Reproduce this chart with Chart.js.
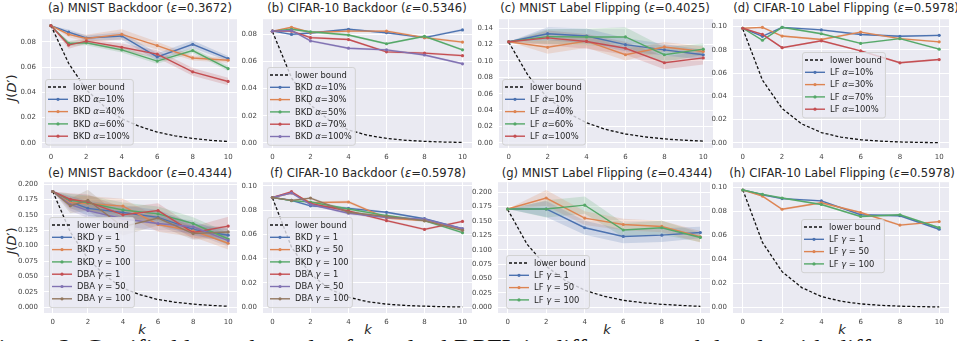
<!DOCTYPE html>
<html>
<head>
<meta charset="utf-8">
<script src="https://cdn.jsdelivr.net/npm/chart.js@4.4.0/dist/chart.umd.min.js"></script>
<style>
  body { margin: 0; width: 957px; height: 341px; overflow: hidden; position: relative; background: #fff; font-family: "DejaVu Sans", sans-serif; }
  canvas { position: absolute; }
  .ttl { position: absolute; font-size: 14px; line-height: 16px; color: #262626; white-space: nowrap; transform: translateX(-50%); }
  .ylab { position: absolute; font-size: 13px; color: #262626; white-space: nowrap; transform: translate(-50%, -50%) rotate(-90deg); }
  .xlab { position: absolute; font-size: 13px; line-height: 14px; color: #262626; font-style: italic; transform: translateX(-50%); }
  .cap { position: absolute; left: -16px; top: 336px; font-family: "Liberation Serif", serif; font-size: 26px; line-height: 26px; color: #111; white-space: nowrap; }
</style>
</head>
<body>
<div class="ttl" style="left:140px;top:0px">(a) MNIST Backdoor (<i>ε</i>=0.3672)</div>
<div class="ttl" style="left:367px;top:0px">(b) CIFAR-10 Backdoor (<i>ε</i>=0.5346)</div>
<div class="ttl" style="left:605px;top:0px">(c) MNIST Label Flipping (<i>ε</i>=0.4025)</div>
<div class="ttl" style="left:846px;top:0px">(d) CIFAR-10 Label Flipping (<i>ε</i>=0.5978)</div>
<div class="ttl" style="left:140px;top:165px">(e) MNIST Backdoor (<i>ε</i>=0.4344)</div>
<div class="ttl" style="left:368px;top:165px">(f) CIFAR-10 Backdoor (<i>ε</i>=0.5978)</div>
<div class="ttl" style="left:607px;top:165px">(g) MNIST Label Flipping (<i>ε</i>=0.4344)</div>
<div class="ttl" style="left:842px;top:165px">(h) CIFAR-10 Label Flipping (<i>ε</i>=0.5978)</div>
<div class="ylab" style="left:11px;top:88px"><i>J</i>(<i>D</i>′)</div>
<div class="ylab" style="left:11px;top:241px"><i>J</i>(<i>D</i>′)</div>
<div class="xlab" style="left:142px;top:323px">k</div>
<div class="xlab" style="left:368px;top:323px">k</div>
<div class="xlab" style="left:607px;top:323px">k</div>
<div class="xlab" style="left:842px;top:323px">k</div>
<div class="cap">Figure 2: Certified lower bounds of standard DPFL in different attack levels with different</div>
<script>
// ---- data ----
const ks7 = [0, 1, 2, 4, 6, 8, 10];
const ks6 = [0, 2, 4, 6, 8, 10];
const ksBound = [0, 1, 2, 3, 4, 5, 6, 7, 8, 9, 10];
const xTicks = [0, 2, 4, 6, 8, 10];
const yTicksSmall = [0, 0.02, 0.04, 0.06, 0.08];
const yTicksC = [0, 0.02, 0.04, 0.06, 0.08, 0.10, 0.12, 0.14];
const yTicksTen = [0, 0.02, 0.04, 0.06, 0.08, 0.10];
const yTicksBig = [0, 0.025, 0.05, 0.075, 0.1, 0.125, 0.15, 0.175, 0.2];

// (a) MNIST backdoor
const aLower = [0.093, 0.063, 0.042, 0.029, 0.019, 0.013, 0.0085, 0.0055, 0.0035, 0.002, 0.001];
const aBkd10 = [0.0928, 0.0877, 0.0830, 0.0846, 0.0680, 0.0780, 0.0667];
const aBkd40 = [0.0928, 0.0859, 0.0826, 0.0859, 0.0770, 0.0672, 0.0654];
const aBkd60 = [0.0928, 0.0787, 0.0792, 0.0736, 0.0647, 0.0731, 0.0588];
const aBkd100 = [0.0928, 0.0774, 0.0805, 0.0757, 0.0703, 0.0562, 0.0486];
const aErr10 = [0, 0.002, 0.002, 0.003, 0.003, 0.003, 0.002];
const aErr40 = [0, 0.002, 0.003, 0.004, 0.003, 0.002, 0.002];
const aErr60 = [0, 0.002, 0.002, 0.002, 0.002, 0.002, 0.002];
const aErr100 = [0, 0.003, 0.002, 0.003, 0.003, 0.003, 0.003];

// (b) CIFAR-10 backdoor
const bLower = [0.082, 0.048, 0.028, 0.0165, 0.0095, 0.0056, 0.0033, 0.0019, 0.0011, 0.0006, 0.0003];
const bBkd10 = [0.0824, 0.0800, 0.0810, 0.0838, 0.0812, 0.0776, 0.0833];
const bBkd30 = [0.0824, 0.0852, 0.0814, 0.0824, 0.0824, 0.0776, 0.0743];
const bBkd50 = [0.0824, 0.0838, 0.0819, 0.0795, 0.0731, 0.0786, 0.0686];
const bBkd70 = [0.0824, 0.0824, 0.0776, 0.0762, 0.0671, 0.0662, 0.0643];
const bBkd100 = [0.0824, 0.0829, 0.0752, 0.0698, 0.0686, 0.0648, 0.0583];
const bErr = [0, 0.0008, 0.0008, 0.0008, 0.0008, 0.0008, 0.0008];

// (c) MNIST label flipping
const cLower = [0.123, 0.082, 0.055, 0.037, 0.0245, 0.0163, 0.0108, 0.0072, 0.0048, 0.0032, 0.0021];
const cLf10 = [0.1234, 0.1333, 0.1305, 0.1199, 0.1136, 0.1076];
const cLf40 = [0.1234, 0.1167, 0.1242, 0.1076, 0.1171, 0.1116];
const cLf60 = [0.1234, 0.1297, 0.1293, 0.1293, 0.1076, 0.1144];
const cLf100 = [0.1234, 0.1282, 0.1238, 0.1155, 0.0978, 0.1037];
const cErr10 = [0, 0.008, 0.009, 0.008, 0.007, 0.006];
const cErr40 = [0, 0.008, 0.008, 0.007, 0.006, 0.006];
const cErr60 = [0, 0.009, 0.010, 0.012, 0.009, 0.007];
const cErr100 = [0, 0.009, 0.009, 0.008, 0.008, 0.008];

// (d) CIFAR-10 label flipping
const dLower = [0.098, 0.054, 0.0296, 0.0163, 0.0089, 0.0049, 0.0027, 0.0015, 0.0008, 0.0004, 0.0002];
const dLf10 = [0.0986, 0.0917, 0.0994, 0.0972, 0.0933, 0.0917, 0.0925];
const dLf30 = [0.0986, 0.0994, 0.0919, 0.0889, 0.0953, 0.0897, 0.0869];
const dLf70 = [0.0986, 0.0883, 0.0994, 0.0939, 0.0856, 0.0897, 0.0806];
const dLf100 = [0.0986, 0.0933, 0.0819, 0.0878, 0.0792, 0.0689, 0.0717];
const dErr = [0, 0.0008, 0.0008, 0.0008, 0.0008, 0.0008, 0.0008];

// (e) MNIST backdoor, gamma
const eLower = [0.188, 0.122, 0.079, 0.051, 0.031, 0.020, 0.0125, 0.008, 0.005, 0.003, 0.0015];
const eBkd1 = [0.188, 0.1710, 0.1606, 0.1538, 0.1459, 0.1265, 0.1170];
const eBkd50 = [0.188, 0.1696, 0.1685, 0.1643, 0.1344, 0.1239, 0.1039];
const eBkd100 = [0.188, 0.1738, 0.1696, 0.1580, 0.1517, 0.1360, 0.1108];
const eDba1 = [0.188, 0.1753, 0.1711, 0.1501, 0.1570, 0.1213, 0.1318];
const eDba50 = [0.188, 0.1669, 0.1570, 0.1438, 0.1360, 0.1307, 0.1081];
const eDba100 = [0.188, 0.1648, 0.1738, 0.1307, 0.1449, 0.1197, 0.1223];
const eErr = [0, 0.010, 0.012, 0.012, 0.012, 0.010, 0.010];
const eErrRed = [0, 0.010, 0.012, 0.012, 0.012, 0.010, 0.015];
const eErrBrown = [0, 0.012, 0.017, 0.014, 0.012, 0.010, 0.010];

// (f) CIFAR-10 backdoor, gamma
const fLower = [0.090, 0.0495, 0.0272, 0.015, 0.0082, 0.0045, 0.0025, 0.0014, 0.0008, 0.0004, 0.0002];
const fBkd1 = [0.0904, 0.0880, 0.0835, 0.0814, 0.0782, 0.0729, 0.0646];
const fBkd50 = [0.0904, 0.0941, 0.0862, 0.0867, 0.0734, 0.0713, 0.0641];
const fBkd100 = [0.0904, 0.0878, 0.0867, 0.0809, 0.0755, 0.0713, 0.0614];
const fDba1 = [0.0904, 0.0952, 0.0854, 0.0793, 0.0713, 0.0641, 0.0707];
const fDba50 = [0.0904, 0.0941, 0.0846, 0.0774, 0.0739, 0.0726, 0.0646];
const fDba100 = [0.0904, 0.0880, 0.0899, 0.0782, 0.0747, 0.0713, 0.0633];
const fErr = [0, 0.0009, 0.0009, 0.0012, 0.0009, 0.0009, 0.0009];

// (g) MNIST label flipping, gamma
const gLower = [0.170, 0.110, 0.0713, 0.0462, 0.0295, 0.019, 0.012, 0.0078, 0.005, 0.003, 0.0015];
const gLf1 = [0.1708, 0.1708, 0.1382, 0.1230, 0.1253, 0.1298];
const gLf50 = [0.1708, 0.1899, 0.1550, 0.1438, 0.1404, 0.1225];
const gLf100 = [0.1708, 0.1708, 0.1775, 0.1343, 0.1382, 0.1213];
const gErr1 = [0, 0.014, 0.012, 0.012, 0.012, 0.010];
const gErr50 = [0, 0.014, 0.012, 0.010, 0.010, 0.010];
const gErr100 = [0, 0.015, 0.015, 0.012, 0.012, 0.008];

// (h) CIFAR-10 label flipping, gamma
const hLower = [0.098, 0.054, 0.0296, 0.0163, 0.0089, 0.0049, 0.0027, 0.0015, 0.0008, 0.0004, 0.0002];
const hLf1 = [0.0978, 0.0938, 0.0906, 0.0887, 0.0771, 0.0763, 0.0650];
const hLf50 = [0.0978, 0.0927, 0.0817, 0.0871, 0.0790, 0.0685, 0.0714];
const hLf100 = [0.0978, 0.0941, 0.0911, 0.0857, 0.0757, 0.0771, 0.0663];
const hErr = [0, 0.0008, 0.0008, 0.0008, 0.0008, 0.0008, 0.0008];

// ---- styling ----
const FONT = '"DejaVu Sans", sans-serif';
const C = {
  blue: [76, 114, 176], orange: [221, 132, 82], green: [85, 168, 104],
  red: [196, 78, 82], purple: [129, 114, 179], brown: [147, 120, 96]
};
const rgb = (c, a) => a === undefined ? `rgb(${c.join(',')})` : `rgba(${c.join(',')},${a})`;

// size the panel titles so "(a) ..." is as wide as in the reference (184px)
(function fitTitles() {
  const titles = document.querySelectorAll('.ttl');
  const w = titles[0].getBoundingClientRect().width;
  const size = 14 * 184 / w;
  titles.forEach(el => { el.style.fontSize = size.toFixed(2) + 'px'; });
})();

const bgPlugin = {
  id: 'areaBg',
  beforeDraw(chart) {
    const { ctx, chartArea: a } = chart;
    ctx.save();
    ctx.fillStyle = '#EAEAF2';
    ctx.fillRect(a.left, a.top, a.right - a.left, a.bottom - a.top);
    ctx.restore();
  }
};

// labels with greek letters drawn in italic
function richParts(text) {
  return text.split(/([αγ])/).filter(s => s.length);
}
function richWidth(ctx, text, size) {
  let w = 0;
  richParts(text).forEach(p => {
    ctx.font = (/[αγ]/.test(p) ? 'italic ' : '') + size + 'px ' + FONT;
    w += ctx.measureText(p).width;
  });
  return w;
}
function drawRich(ctx, text, x, y, size) {
  richParts(text).forEach(p => {
    ctx.font = (/[αγ]/.test(p) ? 'italic ' : '') + size + 'px ' + FONT;
    ctx.fillText(p, x, y);
    x += ctx.measureText(p).width;
  });
}

const legendPlugin = {
  id: 'boxLegend',
  afterDatasetsDraw(chart, args, opts) {
    const ctx = chart.ctx;
    const rowH = 12.3;
    // "lower bound" is about 52px wide in the reference
    const size = 10 * 52 / richWidth(ctx, 'lower bound', 10);
    const items = opts.items;
    ctx.save();
    let maxW = 0;
    items.forEach(it => { maxW = Math.max(maxW, richWidth(ctx, it.label, size)); });
    const x = opts.x, y = opts.y;
    const w = 28 + maxW + 3, h = items.length * rowH + 4;
    ctx.beginPath();
    ctx.roundRect(x + 0.5, y + 0.5, w, h, 2.5);
    ctx.fillStyle = 'rgba(234,234,242,0.8)';
    ctx.fill();
    ctx.strokeStyle = '#d2d2d2';
    ctx.lineWidth = 1;
    ctx.stroke();
    items.forEach((it, i) => {
      const cy = y + 8 + i * rowH;
      ctx.beginPath();
      ctx.moveTo(x + 3, cy);
      ctx.lineTo(x + 23, cy);
      ctx.strokeStyle = it.color;
      ctx.lineWidth = it.dash ? 1.3 : 1.4;
      ctx.setLineDash(it.dash ? [3, 2] : []);
      ctx.stroke();
      ctx.setLineDash([]);
      if (!it.dash) {
        ctx.beginPath();
        ctx.arc(x + 13, cy, 1.6, 0, Math.PI * 2);
        ctx.fillStyle = it.color;
        ctx.fill();
      }
      ctx.fillStyle = '#262626';
      ctx.textBaseline = 'middle';
      drawRich(ctx, it.label, x + 28, cy + 0.5, size);
    });
    ctx.restore();
  }
};

function makePanel(p) {
  const yW = 34, padT = 6, padR = 10, xH = 18;
  const [l, t, r, b] = p.area;
  const cv = document.createElement('canvas');
  cv.width = r - l + yW + padR;
  cv.height = b - t + padT + xH;
  cv.style.left = (l - yW) + 'px';
  cv.style.top = (t - padT) + 'px';
  document.body.appendChild(cv);

  const datasets = [];
  p.series.forEach((s, i) => {
    datasets.push({
      data: s.data.map((v, j) => ({ x: p.ks[j], y: v + s.err[j] })),
      borderWidth: 0, pointRadius: 0, fill: false, order: 100
    });
    datasets.push({
      data: s.data.map((v, j) => ({ x: p.ks[j], y: v - s.err[j] })),
      borderWidth: 0, pointRadius: 0, fill: '-1', backgroundColor: rgb(s.color, 0.2), order: 100
    });
  });
  datasets.push({
    data: p.lower.map((v, j) => ({ x: ksBound[j], y: v })),
    borderColor: '#111', borderWidth: 1.3, borderDash: [3, 2], pointRadius: 0, fill: false, order: 60
  });
  p.series.forEach((s, i) => {
    datasets.push({
      data: s.data.map((v, j) => ({ x: p.ks[j], y: v })),
      borderColor: rgb(s.color), borderWidth: 1.4, pointRadius: 1.6, pointBorderWidth: 0,
      pointBackgroundColor: rgb(s.color), fill: false, order: 50 - i
    });
  });

  const legendItems = [{ label: 'lower bound', color: '#111', dash: true }]
    .concat(p.series.map(s => ({ label: s.label, color: rgb(s.color) })));

  new Chart(cv, {
    type: 'line',
    data: { datasets },
    options: {
      responsive: false,
      animation: false,
      layout: { padding: { top: padT, right: padR, left: 0, bottom: 0 } },
      plugins: {
        legend: { display: false },
        tooltip: { enabled: false },
        filler: { propagate: false },
        boxLegend: { x: p.legend[0] - (l - yW), y: p.legend[1] - (t - padT), items: legendItems }
      },
      scales: {
        x: {
          type: 'linear', min: -0.5, max: 10.5,
          afterBuildTicks: s => { s.ticks = xTicks.map(v => ({ value: v })); },
          afterFit: s => { s.height = xH; },
          grid: { color: '#ffffff', lineWidth: 1, drawTicks: false },
          border: { display: false },
          ticks: { autoSkip: false, maxRotation: 0, padding: 5, color: '#444', font: { size: 7, family: FONT }, callback: v => String(v) }
        },
        y: {
          type: 'linear', min: p.ymin, max: p.ymax,
          afterBuildTicks: s => { s.ticks = p.yTicks.map(v => ({ value: v })); },
          afterFit: s => { s.width = yW; },
          grid: { color: '#ffffff', lineWidth: 1, drawTicks: false },
          border: { display: false },
          ticks: { autoSkip: false, padding: 6, color: '#444', font: { size: 7, family: FONT }, callback: v => v.toFixed(p.dec) }
        }
      }
    },
    plugins: [bgPlugin, legendPlugin]
  });
}

makePanel({
  area: [42, 15, 237, 148], ymin: -0.0041, ymax: 0.0979, yTicks: yTicksSmall, dec: 2, ks: ks7, lower: aLower, legend: [45, 79],
  series: [
    { label: 'BKD α=10%', data: aBkd10, err: aErr10, color: C.blue },
    { label: 'BKD α=40%', data: aBkd40, err: aErr40, color: C.orange },
    { label: 'BKD α=60%', data: aBkd60, err: aErr60, color: C.green },
    { label: 'BKD α=100%', data: aBkd100, err: aErr100, color: C.red }
  ]
});
makePanel({
  area: [263, 15, 472, 148], ymin: -0.0038, ymax: 0.0912, yTicks: yTicksSmall, dec: 2, ks: ks7, lower: bLower, legend: [267, 67],
  series: [
    { label: 'BKD α=10%', data: bBkd10, err: bErr, color: C.blue },
    { label: 'BKD α=30%', data: bBkd30, err: bErr, color: C.orange },
    { label: 'BKD α=50%', data: bBkd50, err: bErr, color: C.green },
    { label: 'BKD α=70%', data: bBkd70, err: bErr, color: C.red },
    { label: 'BKD α=100%', data: bBkd100, err: bErr, color: C.purple }
  ]
});
makePanel({
  area: [499, 15, 713, 148], ymin: -0.0063, ymax: 0.151, yTicks: yTicksC, dec: 2, ks: ks6, lower: cLower, legend: [502, 79],
  series: [
    { label: 'LF α=10%', data: cLf10, err: cErr10, color: C.blue },
    { label: 'LF α=40%', data: cLf40, err: cErr40, color: C.orange },
    { label: 'LF α=60%', data: cLf60, err: cErr60, color: C.green },
    { label: 'LF α=100%', data: cLf100, err: cErr100, color: C.red }
  ]
});
makePanel({
  area: [733, 15, 949, 148], ymin: -0.0044, ymax: 0.1064, yTicks: yTicksTen, dec: 2, ks: ks7, lower: dLower, legend: [802, 52],
  series: [
    { label: 'LF α=10%', data: dLf10, err: dErr, color: C.blue },
    { label: 'LF α=30%', data: dLf30, err: dErr, color: C.orange },
    { label: 'LF α=70%', data: dLf70, err: dErr, color: C.green },
    { label: 'LF α=100%', data: dLf100, err: dErr, color: C.red }
  ]
});
makePanel({
  area: [44, 178, 237, 313], ymin: -0.0094, ymax: 0.2031, yTicks: yTicksBig, dec: 3, ks: ks7, lower: eLower, legend: [49, 217],
  series: [
    { label: 'BKD γ = 1', data: eBkd1, err: eErr, color: C.blue },
    { label: 'BKD γ = 50', data: eBkd50, err: eErr, color: C.orange },
    { label: 'BKD γ = 100', data: eBkd100, err: eErr, color: C.green },
    { label: 'DBA γ = 1', data: eDba1, err: eErrRed, color: C.red },
    { label: 'DBA γ = 50', data: eDba50, err: eErr, color: C.purple },
    { label: 'DBA γ = 100', data: eDba100, err: eErrBrown, color: C.brown }
  ]
});
makePanel({
  area: [263, 178, 472, 313], ymin: -0.0048, ymax: 0.103, yTicks: yTicksTen, dec: 2, ks: ks7, lower: fLower, legend: [267, 217],
  series: [
    { label: 'BKD γ = 1', data: fBkd1, err: fErr, color: C.blue },
    { label: 'BKD γ = 50', data: fBkd50, err: fErr, color: C.orange },
    { label: 'BKD γ = 100', data: fBkd100, err: fErr, color: C.green },
    { label: 'DBA γ = 1', data: fDba1, err: fErr, color: C.red },
    { label: 'DBA γ = 50', data: fDba50, err: fErr, color: C.purple },
    { label: 'DBA γ = 100', data: fDba100, err: fErr, color: C.brown }
  ]
});
makePanel({
  area: [498, 178, 710, 313], ymin: -0.0101, ymax: 0.2174, yTicks: yTicksBig, dec: 3, ks: ks6, lower: gLower, legend: [506, 255],
  series: [
    { label: 'LF γ = 1', data: gLf1, err: gErr1, color: C.blue },
    { label: 'LF γ = 50', data: gLf50, err: gErr50, color: C.orange },
    { label: 'LF γ = 100', data: gLf100, err: gErr100, color: C.green }
  ]
});
makePanel({
  area: [733, 178, 949, 313], ymin: -0.0049, ymax: 0.1043, yTicks: yTicksTen, dec: 2, ks: ks7, lower: hLower, legend: [801, 219],
  series: [
    { label: 'LF γ = 1', data: hLf1, err: hErr, color: C.blue },
    { label: 'LF γ = 50', data: hLf50, err: hErr, color: C.orange },
    { label: 'LF γ = 100', data: hLf100, err: hErr, color: C.green }
  ]
});
</script>
</body>
</html>
